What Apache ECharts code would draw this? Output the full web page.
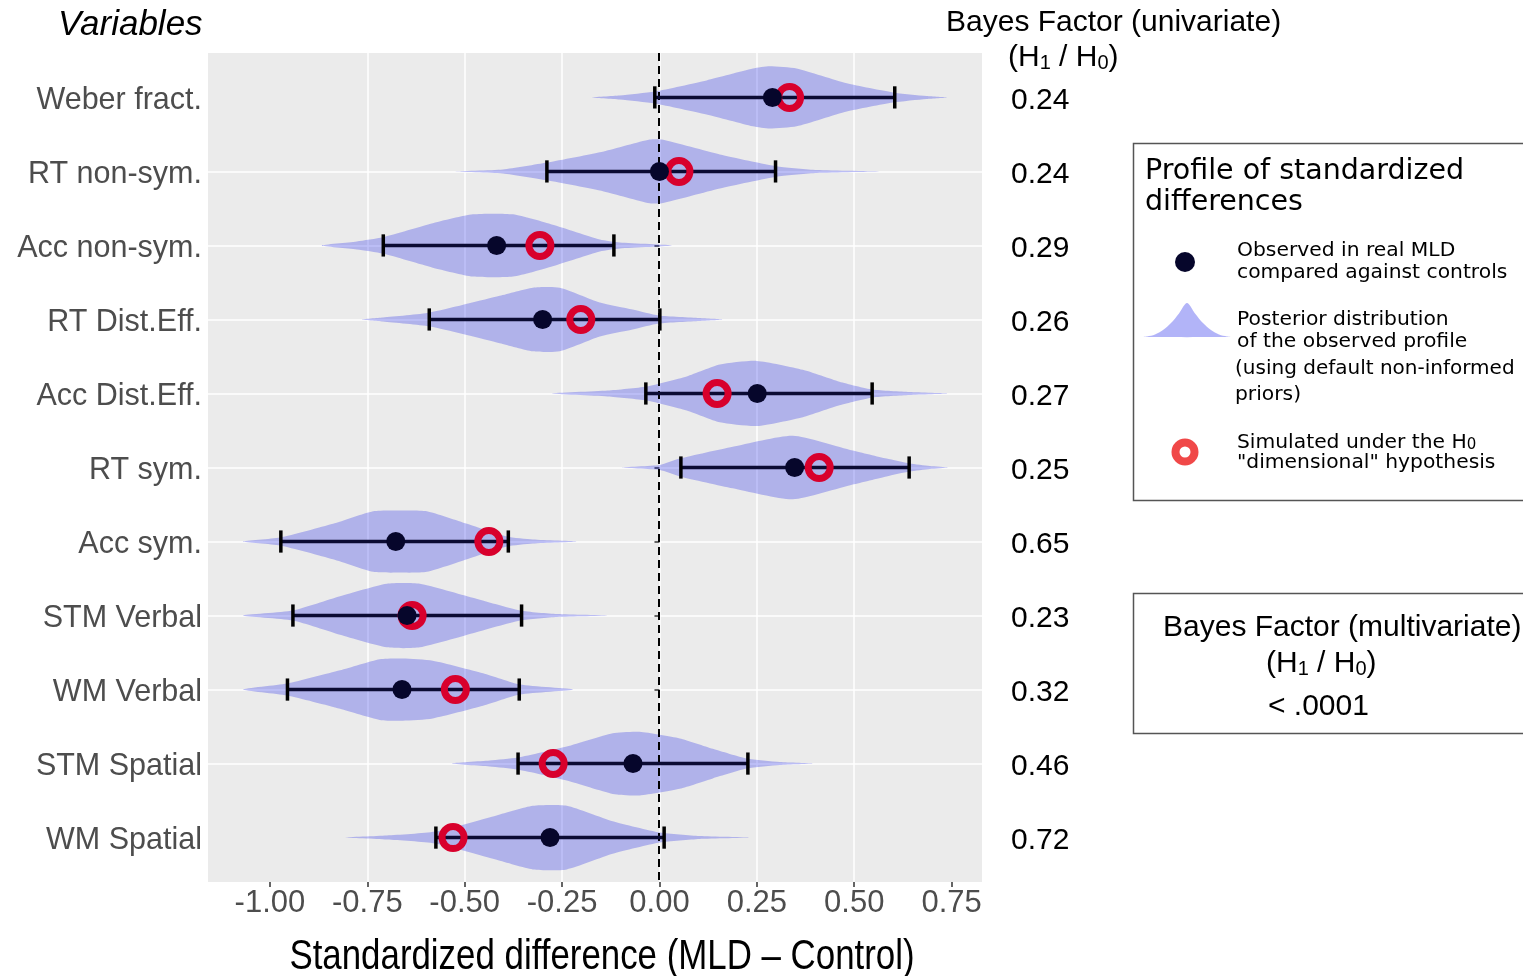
<!DOCTYPE html>
<html><head><meta charset="utf-8">
<script src="https://cdn.jsdelivr.net/npm/echarts@6/dist/echarts.min.js"></script>
<style>html,body{margin:0;padding:0;background:#fff}#c{width:1523px;height:976px}</style>
</head><body><div id="c"></div>
<script>
// ---------- data ----------
const categories = ['Weber fract.','RT non-sym.','Acc non-sym.','RT Dist.Eff.','Acc Dist.Eff.','RT sym.','Acc sym.','STM Verbal','WM Verbal','STM Spatial','WM Spatial'];
const observed  = [0.290, 0.000, -0.418, -0.300, 0.251, 0.347, -0.677, -0.648, -0.661, -0.068, -0.281];
const simulated = [0.334, 0.050, -0.307, -0.202, 0.148, 0.410, -0.438, -0.635, -0.524, -0.273, -0.530];
const ciLow     = [-0.012, -0.289, -0.709, -0.591, -0.035, 0.055, -0.972, -0.941, -0.955, -0.363, -0.574];
const ciHigh    = [0.604, 0.298, -0.117, 0.001, 0.546, 0.641, -0.388, -0.354, -0.360, 0.227, 0.012];
const bayesFactors = ['0.24','0.24','0.29','0.26','0.27','0.25','0.65','0.23','0.32','0.46','0.72'];
const xTicks = [-1.00, -0.75, -0.50, -0.25, 0.00, 0.25, 0.50, 0.75];
const referenceLine = 0;
const multivariateBF = '< .0001';

// violin outlines: [x, half-width in row units]
const violinWeber      = [[-0.174,0],[-0.102,0.027],[-0.012,0.081],[0.121,0.23],[0.240,0.39],[0.283,0.42],[0.352,0.39],[0.481,0.19],[0.599,0.068],[0.686,0.02],[0.738,0]];
const violinRTnonsym   = [[-0.525,0],[-0.402,0.027],[-0.289,0.12],[-0.143,0.27],[-0.025,0.43],[0.006,0.43],[0.155,0.23],[0.304,0.068],[0.404,0.02],[0.566,0]];
const violinAccnonsym  = [[-0.867,0],[-0.777,0.054],[-0.710,0.11],[-0.582,0.30],[-0.479,0.42],[-0.376,0.42],[-0.274,0.28],[-0.153,0.081],[-0.102,0.04],[0.032,0]];
const violinRTdist     = [[-0.764,0],[-0.710,0.027],[-0.589,0.095],[-0.410,0.32],[-0.325,0.43],[-0.256,0.43],[-0.153,0.23],[-0.069,0.135],[-0.002,0.054],[0.103,0.02],[0.162,0]];
const violinAccdist    = [[-0.276,0],[-0.133,0.04],[-0.033,0.095],[0.070,0.23],[0.155,0.39],[0.250,0.44],[0.368,0.32],[0.462,0.16],[0.547,0.054],[0.642,0.02],[0.740,0]];
const violinRTsym      = [[-0.097,0],[0.001,0.034],[0.052,0.12],[0.188,0.28],[0.342,0.43],[0.496,0.23],[0.583,0.12],[0.642,0.054],[0.694,0.02],[0.740,0]];
const violinAccsym     = [[-1.069,0],[-0.974,0.054],[-0.838,0.24],[-0.735,0.41],[-0.666,0.42],[-0.597,0.41],[-0.494,0.24],[-0.392,0.068],[-0.325,0.027],[-0.212,0]];
const violinSTMverbal  = [[-1.069,0],[-0.941,0.068],[-0.820,0.26],[-0.700,0.43],[-0.615,0.43],[-0.479,0.24],[-0.358,0.068],[-0.263,0.02],[-0.132,0]];
const violinWMverbal   = [[-1.069,0],[-0.956,0.081],[-0.820,0.26],[-0.718,0.41],[-0.659,0.42],[-0.582,0.39],[-0.453,0.22],[-0.358,0.068],[-0.222,0]];
const violinSTMspatial = [[-0.533,0],[-0.436,0.04],[-0.364,0.081],[-0.238,0.23],[-0.120,0.41],[-0.051,0.43],[0.052,0.34],[0.137,0.20],[0.224,0.068],[0.309,0.02],[0.394,0]];
const violinWMspatial  = [[-0.807,0],[-0.700,0.027],[-0.576,0.081],[-0.418,0.30],[-0.325,0.43],[-0.238,0.43],[-0.120,0.22],[0.001,0.068],[0.103,0.02],[0.231,0]];

const violins = [violinWeber, violinRTnonsym, violinAccnonsym, violinRTdist, violinAccdist, violinRTsym,
                 violinAccsym, violinSTMverbal, violinWMverbal, violinSTMspatial, violinWMspatial];
const rowPos = categories.map((c, i) => i + 1);

// ---------- chart ----------
const SANS = '"Liberation Sans", Arial, sans-serif';
const VER = '"DejaVu Sans", Verdana, sans-serif';

const chart = echarts.init(document.getElementById('c'), null, {renderer: 'canvas'});

function renderViolin(params, api) {
  const prof = violins[params.dataIndex];
  const pos = api.value(1);
  const upper = prof.map(p => api.coord([p[0], pos - p[1]]));
  const lower = prof.slice(1, -1).reverse().map(p => api.coord([p[0], pos + p[1]]));
  return {type: 'polygon', silent: true, shape: {points: upper.concat(lower), smooth: 0.2},
          style: {fill: 'rgba(0,7,231,0.25)'}};
}
function renderRef(params, api) {
  const cs = params.coordSys;
  const p = api.coord([api.value(0), api.value(1)]);
  const x = Math.round(p[0]);
  return {type: 'line', silent: true, shape: {x1: x, y1: cs.y, x2: x, y2: cs.y + cs.height},
          style: {stroke: '#000', lineWidth: 2, lineDash: [8, 5]}};
}
function renderErr(params, api) {
  const y = api.value(2);
  const lo = api.coord([api.value(0), y]);
  const hi = api.coord([api.value(1), y]);
  const cap = api.size([0, 0.15])[1];
  return {type: 'group', silent: true, children: [
    {type: 'line', shape: {x1: lo[0], y1: lo[1], x2: hi[0], y2: hi[1]}, style: {stroke: '#0b0b33', lineWidth: 3.5}},
    {type: 'line', shape: {x1: lo[0], y1: lo[1] - cap, x2: lo[0], y2: lo[1] + cap}, style: {stroke: '#000', lineWidth: 3.5}},
    {type: 'line', shape: {x1: hi[0], y1: hi[1] - cap, x2: hi[0], y2: hi[1] + cap}, style: {stroke: '#000', lineWidth: 3.5}}
  ]};
}

function txt(text, x, y, size, family, italic) {
  return {type: 'text', x: x, y: y, silent: true,
    style: {text: text, fontSize: size, fontFamily: family, fontStyle: italic ? 'italic' : 'normal',
            fill: '#000', align: 'left', verticalAlign: 'middle'}};
}
function hRich(x, y, big, small, family) {
  return {type: 'text', x: x, y: y, silent: true, style: {
    text: '{a|(H}{s|1}{a| / H}{s|0}{a|)}', align: 'left', verticalAlign: 'middle',
    rich: {a: {fontSize: big, fontFamily: family, fill: '#000', verticalAlign: 'bottom', lineHeight: big + 4},
           s: {fontSize: small, fontFamily: family, fill: '#000', verticalAlign: 'bottom', lineHeight: small + 2}}}};
}

const option = {
  animation: false,
  backgroundColor: '#fff',
  grid: {left: 208, right: 541, top: 53, bottom: 94, show: true, backgroundColor: '#ebebeb', borderWidth: 0,
         containLabel: false, outerBoundsMode: 'none'},
  xAxis: {
    type: 'value', min: -1.159, max: 0.828, minInterval: 0.25, maxInterval: 0.25,
    axisLine: {show: false},
    axisTick: {show: true, length: 5, customValues: xTicks, lineStyle: {color: '#333', width: 1.5}},
    axisLabel: {customValues: xTicks, formatter: v => v.toFixed(2), fontFamily: SANS, fontSize: 31, color: '#4d4d4d', margin: 6},
    splitLine: {show: true, showMinLine: false, showMaxLine: false, lineStyle: {color: '#fff', width: 1.5}}
  },
  yAxis: [{
    type: 'value', min: 0.4, max: 11.6, inverse: true, minInterval: 1, maxInterval: 1,
    axisLine: {show: false},
    axisTick: {show: true, length: 5, customValues: rowPos, lineStyle: {color: '#333', width: 1.5}},
    axisLabel: {customValues: rowPos, formatter: v => '{n|' + (categories[Math.round(v) - 1] || '') + '}', margin: 6,
                rich: {n: {fontFamily: SANS, fontSize: 30.5, color: '#4d4d4d', padding: [7, 0, 0, 0]}}},
    splitLine: {show: true, showMinLine: false, showMaxLine: false, lineStyle: {color: '#fff', width: 1.5}}
  }, {
    type: 'value', position: 'right', min: 0.4, max: 11.6, inverse: true, minInterval: 1, maxInterval: 1,
    axisLine: {show: false}, axisTick: {show: false}, splitLine: {show: false},
    axisLabel: {customValues: rowPos, formatter: v => '{n|' + (bayesFactors[Math.round(v) - 1] || '') + '}', margin: 29, align: 'left',
                rich: {n: {fontFamily: SANS, fontSize: 30, color: '#000', padding: [7, 0, 0, 0]}}}
  }],
  series: [
    {type: 'custom', name: 'posterior', z: 2, renderItem: renderViolin,
     encode: {x: 0, y: 1}, data: rowPos.map((p, i) => [observed[i], p])},
    {type: 'custom', name: 'reference', zlevel: 1, z: 2, renderItem: renderRef,
     encode: {x: 0, y: 1}, data: [[referenceLine, 1]]},
    {type: 'custom', name: 'interval', zlevel: 1, z: 3, renderItem: renderErr,
     encode: {x: [0, 1], y: 2}, data: rowPos.map((p, i) => [ciLow[i], ciHigh[i], p])},
    {type: 'scatter', name: 'simulated', zlevel: 1, z: 4, symbol: 'circle', symbolSize: 22, silent: true,
     itemStyle: {color: 'rgba(0,0,0,0)', borderColor: '#d8002c', borderWidth: 7, opacity: 1},
     data: simulated.map((v, i) => [v, rowPos[i]])},
    {type: 'scatter', name: 'observed', zlevel: 1, z: 5, symbol: 'circle', symbolSize: 19, silent: true,
     itemStyle: {color: '#06062b', opacity: 1},
     data: observed.map((v, i) => [v, rowPos[i]])}
  ],
  graphic: [
    txt('Variables', 58, 25, 35, SANS, true),
    txt('Bayes Factor (univariate)', 946, 23, 30, SANS),
    hRich(1008, 56, 30, 20, SANS),
    {type: 'text', x: 602, y: 957, scaleX: 0.83, silent: true,
     style: {text: 'Standardized difference (MLD – Control)', fontSize: 42, fontFamily: SANS, fill: '#000', align: 'center', verticalAlign: 'middle'}},
    {type: 'rect', silent: true, shape: {x: 1133.5, y: 143.5, width: 420, height: 357}, style: {fill: '#fff', stroke: '#555', lineWidth: 1.5}},
    txt('Profile of standardized', 1145, 172, 28.5, VER),
    txt('differences', 1145, 203, 28.5, VER),
    {type: 'circle', silent: true, shape: {cx: 1185, cy: 262, r: 10}, style: {fill: '#06062b'}},
    txt('Observed in real MLD', 1237, 251, 20.3, VER),
    txt('compared against controls', 1237, 273, 20.3, VER),
    {type: 'polygon', silent: true, shape: {points: [[1142,337],[1147,336.4],[1155,334.4],[1163,330],[1171,323],[1179,313.4],[1187,303],[1195,313.4],[1203,323],[1211,330],[1219,334.4],[1227,336.4],[1232,337]], smooth: 0.3},
     style: {fill: 'rgba(0,7,231,0.3)'}},
    txt('Posterior distribution', 1237, 320, 20.3, VER),
    txt('of the observed profile', 1237, 342, 20.3, VER),
    txt('(using default non-informed', 1235, 369, 20, VER),
    txt('priors)', 1235, 395, 20.3, VER),
    {type: 'circle', silent: true, shape: {cx: 1185, cy: 452, r: 9.5}, style: {fill: 'none', stroke: '#f04848', lineWidth: 8}},
    {type: 'text', x: 1237, y: 441, silent: true, style: {text: '{a|Simulated under the H}{s|0}', align: 'left', verticalAlign: 'middle',
      rich: {a: {fontSize: 20.3, fontFamily: VER, fill: '#000', verticalAlign: 'bottom', lineHeight: 24},
             s: {fontSize: 15, fontFamily: VER, fill: '#000', verticalAlign: 'bottom', lineHeight: 19}}}},
    txt('"dimensional" hypothesis', 1237, 463, 20.3, VER),
    {type: 'rect', silent: true, shape: {x: 1133.5, y: 593.5, width: 420, height: 140}, style: {fill: '#fff', stroke: '#555', lineWidth: 1.5}},
    txt('Bayes Factor (multivariate)', 1163, 628, 30, SANS),
    hRich(1266, 662, 30, 20, SANS),
    txt(multivariateBF, 1268, 707, 30, SANS)
  ]
};
chart.setOption(option);
</script></body></html>
